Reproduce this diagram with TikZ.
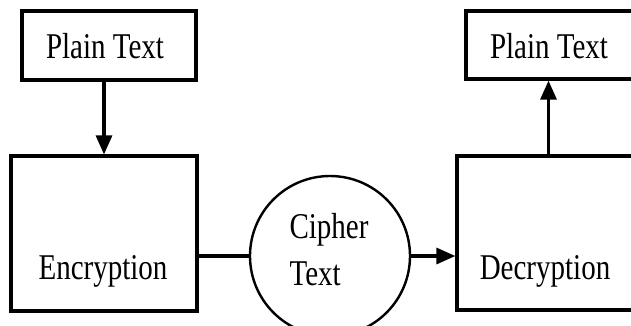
\documentclass[tikz,border=0pt]{standalone}
\usepackage{fontspec}
\setmainfont{Liberation Serif}
\usetikzlibrary{arrows.meta}

% taller letters, as set in the figure
\newcommand{\tall}[1]{\scalebox{1}[1.25]{#1}}

\begin{document}
\begin{tikzpicture}[x=1pt, y=-1pt,
        block/.style={draw, line width=3.2pt, inner sep=0pt},
        blocktext/.style={inner sep=0pt, font=\fontsize{29}{47}\selectfont},
        wire/.style={line width=3.2pt},
        flow/.style={wire, -{Triangle[length=19pt, width=16pt]}}]
                % Page frame:
                \clip (0, 0) rectangle (631, 325);
                \fill[white] (0, 0) rectangle (631, 325);
                % Blocks and their texts:
                \node[block, minimum width=174pt, minimum height=69pt](plainA) at (109, 45.5){};
                \node[blocktext](plainAText) at (105, 46){\tall{Plain Text}};
                \node[block, minimum width=186pt, minimum height=155pt](enc) at (104, 233.5){};
                \node[blocktext](encText) at (103, 271){\tall{Encryption}};
                \node[draw, circle, line width=2.4pt, minimum size=160pt, inner sep=0pt](cipher) at (330, 256){};
                \node[blocktext, align=left](cipherText) at (329, 250){\tall{Cipher}\\\tall{Text}};
                \node[block, minimum width=183pt, minimum height=154pt](dec) at (548.5, 233){};
                \node[blocktext](decText) at (545, 271){\tall{Decryption}};
                \node[block, minimum width=168pt, minimum height=68pt](plainB) at (550, 45){};
                \node[blocktext](plainBText) at (549, 46){\tall{Plain Text}};
                % Wires:
                \draw[flow] (plainA.south -| enc.north) -- (enc.north);
                \draw[wire] (cipher.west -| enc.east) -- (cipher.west);
                \draw[flow] (cipher.east) -- (cipher.east -| dec.west);
                \draw[flow] (dec.north) -- (dec.north |- plainB.south);
            \end{tikzpicture}
\end{document}
